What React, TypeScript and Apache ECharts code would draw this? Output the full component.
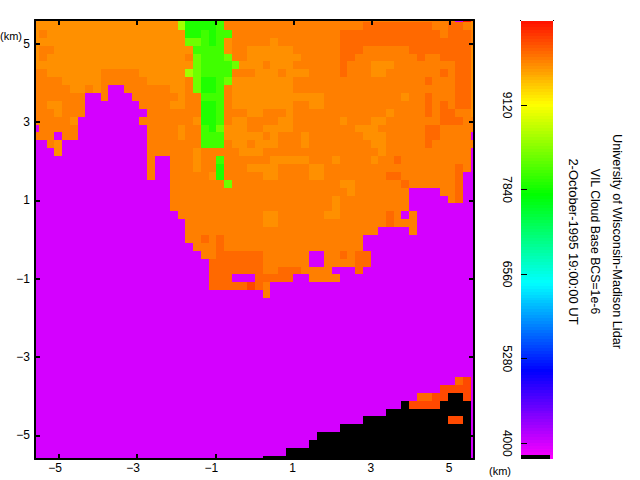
import React, { useEffect, useRef } from "react";
import * as echarts from "echarts";

const rowRuns: string[] = [
  "a|a17 v18 g22 h23 b53 m54 r55|b",
  "a|a17 v18 g22 h23 b41 c50 b52 c54 b55|a",
  "a|b0 a18 g20 h21 g22 h24 b38 c51 b52 c55|b",
  "a|a18 w20 h21 g22 h23 a24 b29 a30 b38 c55|b",
  "a|b1 a19 h23 a24 b26 a32 b38 c41 b47 c55|a",
  "a|b0 a18 b19 w20 h23 w24 b26 a33 b38 c40 b48 c49 b51 c55|a",
  "a|a19 w20 h24 w25 a28 b29 a32 b38 c39 b42 a45 b53 c55|a",
  "b|b0 a7 b12 a18 v19 w20 h24 b27 a30 b31 a34 b38 c39 b42 a44 b51 c52 b53 c55|a",
  "b|b2 a7 b13 a18 b19 w20 g22 h23 w24 a32 b49 c50 b53 c55|a",
  "b|b3 a5 b6 a7 b8 m10 b16 a18 b19 w20 g22 h23 b24 a32 b53 c55|a",
  "b|b5 m7 b8 m11 b17 a18 b20 h23 b24 a36 b46 a47 b49 c50 b53 c55|a",
  "b|b0 a2 b5 m12 b16 a18 b20 g22 h23 b24 a32 b34 a36 b49 c50 b51 c52 b53 c55|a",
  "b|b1 a2 b5 m13 b20 g22 h23 b26 a28 b31 a32 b44 a45 b49 c50 b51 c53 b55|a",
  "b|b3 a4 m12 b19 a20 g22 h23 b24 a26 b30 a32 b38 a39 b42 a44 b51 c54 b55|b",
  "m|b4 m13 b17 a18 b20 h21 g22 w23 a26 b28 a32 b40 a43 b49 c51 b55|b",
  "b|b1 m2 b4 m13 b17 a18 b20 h23 a28 b29 a30 b33 a34 b41 a44 b49 c51 b55|m",
  "m|m0 b1 a2 m13 b20 h23 b24 a26 b27 a30 b33 a34 b42 a44 b49 c50 b55|b",
  "m|m1 a2 m13 b19 a20 b25 a28 b43 a44 b55|m",
  "m|m13 b14 m16 b19 a20 b22 h23 b29 a34 b37 a38 b42 a43 b45 c46 b55|m",
  "m|m13 b14 m16 b19 a20 b22 g23 b26 a30 b34 a36 b53 c54 b55|m",
  "m|m13 b14 m16 b21 a22 g23 b28 a30 b34 a36 b44 c46 b53 c54 m55|m",
  "m|m16 b23 w24 b38 a40 b46 c47 b53 c54 m55|m",
  "m|m16 b39 a40 b47 m51 b53 c54 m55|m",
  "m|m16 b37 a38 b47 m52 b53 c54 m55|m",
  "m|m16 b37 a38 b47 m55|m",
  "m|m17 b28 a30 b36 a38 b44 c45 b46 m47 b48 m55|m",
  "m|m18 b28 a30 b44 c45 b48 m55|m",
  "m|m18 b43 m47 b48 m55|m",
  "m|m18 b20 c21 b22 c23 b41 m55|m",
  "m|m19 b22 c23 b41 m55|m",
  "m|m20 b22 c28 b34 m36 b38 c39 b40 c42 m55|m",
  "m|m21 c28 b34 m36 b40 c42 m55|m",
  "m|m21 c28 b30 c33 b37 m40 c41 m55|m",
  "m|m21 c24 m27 c32 m34 b38 m55|m",
  "m|m21 c26 d27 c28 b29 m55|m",
  "m|m28 b29 m55|m",
  "m|m55|m",
  "m|m55|m",
  "m|m55|m",
  "m|m55|m",
  "m|m55|m",
  "m|m55|m",
  "m|m55|m",
  "m|m55|m",
  "m|m55|m",
  "m|m55|m",
  "m|m53 c54 d55|m",
  "m|m51 d55|m",
  "m|m48 c50 d52 k54 d55|m",
  "m|m46 k47 d51 k55|m",
  "m|m44 k55|m",
  "m|m41 k52 d54 k55|m",
  "m|m38 k55|m",
  "m|m35 k55|m",
  "m|m34 k55|m",
  "m|m31 k55|m",
  "m|m28 k55|m",
];

const levelValues: Record<string, number> = {
  a: 9712, b: 9800, c: 9920, d: 10090, r: 10350,
  v: 8620, w: 8345, h: 8100, g: 7920, m: 3985, k: 0,
};

const colorStopValues = [10391, 9120, 7755, 6433, 5096, 3762];
const colorStopColors = [[255, 16, 0], [255, 255, 0], [0, 255, 0], [0, 255, 255], [0, 0, 255], [255, 0, 255]];

const axisTicks = [-5, -3, -1, 1, 3, 5];
const colorTicks = [4000, 5280, 6560, 7840, 9120];
const titleLines = [
  "University of Wisconsin-Madison Lidar",
  "VIL Cloud Base BCS=1e-6",
  "2-October-1995 19:00:00 UT",
];
const titleSizes = [12.7, 12.3, 13];

const KM_MAX_X = 5.614;
const KM_MAX_Y = 5.604;
const CELL_X0 = -5.5115; // km at the left edge of the first full column
const CELL_DX = 0.19719;
const CELL_Y0 = 5.5527; // km at the top edge of the first full row
const CELL_DY = 0.20143;
const BAR_MIN = 3762;
const BAR_MAX = 10391;
const BAR_STEP = 45;
const BAR_BLACK_TOP = 3822;

function valueColor(v: number): string {
  if (v <= 0) return "#000000";
  for (let i = 0; i < colorStopValues.length - 1; i++) {
    const hi = colorStopValues[i];
    const lo = colorStopValues[i + 1];
    if (v <= hi && v >= lo) {
      const t = (hi - v) / (hi - lo);
      const a = colorStopColors[i];
      const b = colorStopColors[i + 1];
      return `rgb(${a.map((c, j) => Math.round(c + (b[j] - c) * t)).join(",")})`;
    }
  }
  return "#ff00ff";
}

function decodeRow(row: string): number[] {
  const [left, runs, right] = row.split("|");
  const out: number[] = [levelValues[left]];
  let k = 0;
  for (const tok of runs.split(" ")) {
    const end = parseInt(tok.slice(1), 10);
    for (; k <= end; k++) out.push(levelValues[tok[0]]);
  }
  out.push(levelValues[right]);
  return out;
}

function cellData(): number[][] {
  const items: number[][] = [];
  rowRuns.forEach((row, i) => {
    const r = i - 1;
    decodeRow(row).forEach((v, j) => {
      const k = j - 1;
      items.push([
        CELL_X0 + CELL_DX * k,
        CELL_X0 + CELL_DX * (k + 1),
        CELL_Y0 - CELL_DY * r,
        CELL_Y0 - CELL_DY * (r + 1),
        v,
      ]);
    });
  });
  return items;
}

function barData(): number[][] {
  const items: number[][] = [];
  for (let v = BAR_MAX; v > BAR_MIN; v -= BAR_STEP) {
    const lo = Math.max(BAR_MIN, v - BAR_STEP);
    const mid = (v + lo) / 2;
    items.push([0, 29 / 32, v, lo, mid < BAR_BLACK_TOP ? 0 : mid]);
    items.push([29 / 32, 1, v, lo, mid]);
  }
  return items;
}

function renderCell(params: any, api: any) {
  const p0 = api.coord([api.value(0), api.value(2)]);
  const p1 = api.coord([api.value(1), api.value(3)]);
  const x = Math.round(p0[0]);
  const y = Math.round(p0[1]);
  const shape = echarts.graphic.clipRectByRect(
    { x, y, width: Math.round(p1[0]) - x, height: Math.round(p1[1]) - y },
    params.coordSys,
  );
  if (!shape) return null as any;
  return { type: "rect", shape, style: { fill: valueColor(api.value(4)) } };
}

const FONT = "Liberation Sans";
const signed = (v: number) => (v < 0 ? `\u2212${-v}` : String(v));

function buildOption(): any {
  const line = { show: true, onZero: false, lineStyle: { color: "#000", width: 2 } };
  const tick = { show: true, inside: true, length: 5, customValues: axisTicks, lineStyle: { color: "#000", width: 2 } };
  const label = { fontFamily: FONT, fontSize: 12, color: "#000", customValues: axisTicks };
  return {
    animation: false,
    backgroundColor: "#fff",
    grid: [
      { left: 35, top: 20, width: 439, height: 439 },
      { left: 521, top: 21, width: 32, height: 438 },
    ],
    xAxis: [
      { type: "value", gridIndex: 0, position: "bottom", min: -KM_MAX_X, max: KM_MAX_X, z: 10,
        axisLine: line, axisTick: tick, splitLine: { show: false },
        axisLabel: {
          ...label, margin: 3,
          formatter: (v: number) => (v < 0 ? `{neg|${signed(v)}}` : `{pos|${signed(v)}}`),
          rich: {
            neg: { fontFamily: FONT, fontSize: 12, color: "#000", padding: [0, 8, 0, 0] },
            pos: { fontFamily: FONT, fontSize: 12, color: "#000", padding: [0, 2, 0, 0] },
          },
        } },
      { type: "value", gridIndex: 0, position: "top", min: -KM_MAX_X, max: KM_MAX_X, z: 10,
        axisLine: line, axisTick: tick, axisLabel: { show: false }, splitLine: { show: false } },
      { type: "value", gridIndex: 1, min: 0, max: 1, show: false },
    ],
    yAxis: [
      { type: "value", gridIndex: 0, position: "left", min: -KM_MAX_Y, max: KM_MAX_Y, z: 10,
        axisLine: line, axisTick: tick, splitLine: { show: false },
        axisLabel: { ...label, formatter: signed, margin: 5, padding: [0, 0, 2, 0] } },
      { type: "value", gridIndex: 0, position: "right", min: -KM_MAX_Y, max: KM_MAX_Y, z: 10,
        axisLine: line, axisTick: tick, axisLabel: { show: false }, splitLine: { show: false } },
      { type: "value", gridIndex: 1, position: "left", min: BAR_MIN, max: BAR_MAX, z: 10,
        axisLine: { show: false }, splitLine: { show: false },
        axisTick: { show: true, inside: true, length: 6, customValues: colorTicks, lineStyle: { color: "#000", width: 1 } },
        axisLabel: { fontFamily: FONT, fontSize: 12, color: "#000", customValues: colorTicks, rotate: -90, margin: 8, formatter: (v: number) => String(v) } },
    ],
    series: [
      { type: "custom", coordinateSystem: "cartesian2d", xAxisIndex: 0, yAxisIndex: 0, clip: true,
        renderItem: renderCell, data: cellData(), silent: true },
      { type: "custom", coordinateSystem: "cartesian2d", xAxisIndex: 2, yAxisIndex: 2, clip: true,
        renderItem: renderCell, data: barData(), silent: true },
    ],
    graphic: [
      { type: "text", x: 0, y: 30, style: { text: "(km)", fontFamily: FONT, fontSize: 11, fill: "#000" } },
      { type: "text", x: 489, y: 465, style: { text: "(km)", fontFamily: FONT, fontSize: 11, fill: "#000" } },
      { type: "rect", shape: { x: 520, y: 20, width: 1, height: 1 }, style: { fill: "#000" } },
      { type: "rect", shape: { x: 553, y: 20, width: 1, height: 1 }, style: { fill: "#000" } },
      ...titleLines.map((text, i) => ({
        type: "text",
        x: [617, 595, 573][i],
        y: 241.5,
        rotation: -Math.PI / 2,
        style: { text, fontFamily: FONT, fontSize: titleSizes[i], fill: "#000", align: "center", verticalAlign: "middle" },
      })),
    ],
  };
}

export default function App() {
  const ref = useRef<HTMLDivElement>(null);
  useEffect(() => {
    const chart = echarts.init(ref.current!, undefined, { renderer: "svg" });
    chart.setOption(buildOption());
    return () => chart.dispose();
  }, []);
  return <div ref={ref} style={{ position: "fixed", left: 0, top: 0, width: 640, height: 480 }} />;
}
